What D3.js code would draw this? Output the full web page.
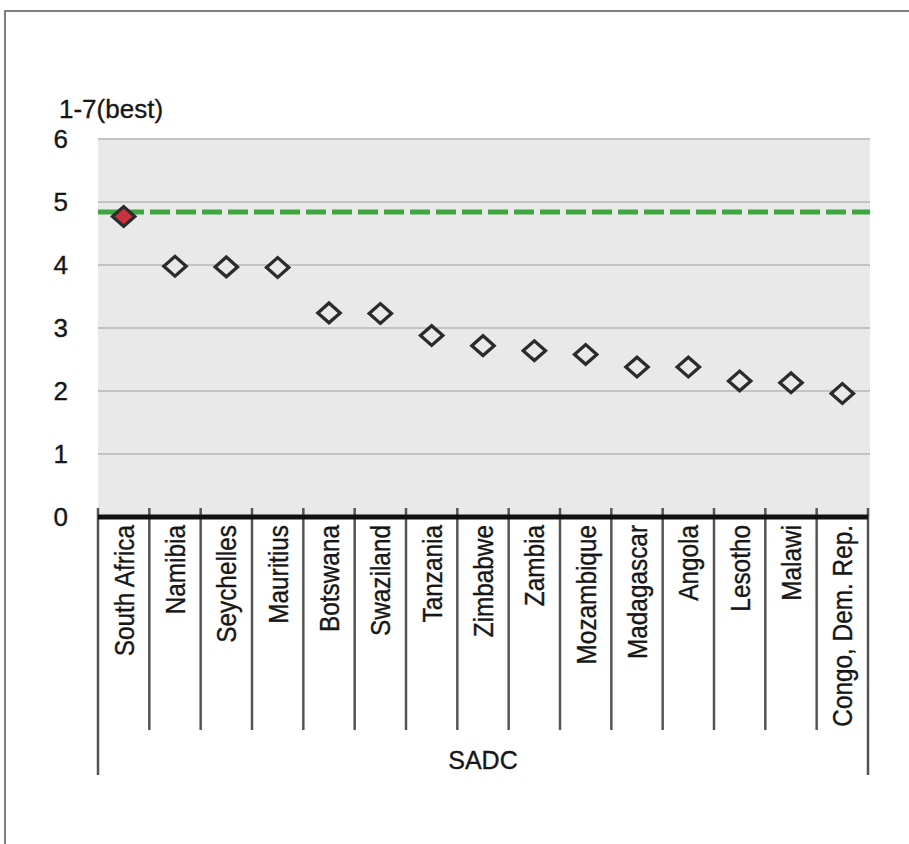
<!DOCTYPE html>
<html>
<head>
<meta charset="utf-8">
<script src="https://cdn.jsdelivr.net/npm/d3@7/dist/d3.min.js"></script>
<style>
  html, body { margin: 0; padding: 0; background: #fff; }
  svg { display: block; }
  text { font-family: "Liberation Sans", Arial, sans-serif; fill: #161616; stroke: #161616; stroke-width: 0.35px; }
</style>
</head>
<body>
<svg id="chart" width="909" height="844"></svg>
<script>
// ---- data ----
const categories = ["South Africa", "Namibia", "Seychelles", "Mauritius", "Botswana", "Swaziland",
  "Tanzania", "Zimbabwe", "Zambia", "Mozambique", "Madagascar", "Angola", "Lesotho", "Malawi",
  "Congo, Dem. Rep."];
const values = [4.77, 3.98, 3.97, 3.96, 3.24, 3.23, 2.88, 2.72, 2.64, 2.58, 2.38, 2.38, 2.16, 2.13, 1.96];
const highlighted = ["South Africa"];
const benchmarkValue = 4.84;
const yTicks = [0, 1, 2, 3, 4, 5, 6];
const yAxisTitle = "1-7(best)";
const groupLabel = "SADC";

// ---- layout ----
const svg = d3.select("#chart");
const plotLeft = 98, plotRight = 868, plotTop = 139, plotBottom = 517;

const x = d3.scaleBand().domain(categories).range([plotLeft, plotRight]).padding(0);
const y = d3.scaleLinear().domain([0, 6]).range([plotBottom, plotTop]);

// outer frame
svg.append("rect")
  .attr("x", 5).attr("y", 11).attr("width", 920).attr("height", 850)
  .attr("fill", "none").attr("stroke", "#555").attr("stroke-width", 1.5);

// plot background
svg.append("rect")
  .attr("x", plotLeft).attr("y", plotTop)
  .attr("width", plotRight - plotLeft + 2).attr("height", plotBottom - plotTop)
  .attr("fill", "#e9e9e9");

// gridlines
svg.append("g").selectAll("line")
  .data(yTicks.filter(d => d > 0))
  .join("line")
  .attr("x1", plotLeft).attr("x2", plotRight + 2)
  .attr("y1", d => y(d)).attr("y2", d => y(d))
  .attr("stroke", "#c3c3c3").attr("stroke-width", 2);

// y tick labels
svg.append("g").selectAll("text")
  .data(yTicks)
  .join("text")
  .attr("x", 68).attr("y", d => y(d))
  .attr("dy", "0.36em")
  .attr("text-anchor", "end")
  .style("font-size", "26px")
  .text(d => d);

// y axis title
svg.append("text")
  .attr("x", 59).attr("y", 118)
  .style("font-size", "26px")
  .text(yAxisTitle);

// benchmark dashed line
svg.append("line")
  .attr("x1", plotLeft).attr("x2", plotRight + 2)
  .attr("y1", y(benchmarkValue)).attr("y2", y(benchmarkValue))
  .attr("stroke", "#3fa63f").attr("stroke-width", 5)
  .attr("stroke-dasharray", "20,6");

// category separators (ticks)
const bounds = categories.map(c => x(c)).concat([x(categories[categories.length - 1]) + x.bandwidth()]);
svg.append("g").selectAll("line")
  .data(bounds)
  .join("line")
  .attr("x1", d => d).attr("x2", d => d)
  .attr("y1", 508)
  .attr("y2", (d, i) => (i === 0 || i === bounds.length - 1) ? 775 : 730)
  .attr("stroke", "#555").attr("stroke-width", 2.5);

// x axis line
svg.append("line")
  .attr("x1", plotLeft).attr("x2", plotRight)
  .attr("y1", plotBottom).attr("y2", plotBottom)
  .attr("stroke", "#111").attr("stroke-width", 5);

// category labels (rotated, slightly condensed)
svg.append("g").selectAll("text")
  .data(categories)
  .join("text")
  .attr("transform", d => `translate(${x(d) + x.bandwidth() / 2},525) rotate(-90) scale(0.87,1)`)
  .attr("dy", "0.36em")
  .attr("text-anchor", "end")
  .style("font-size", "28px")
  .text(d => d);

// group label
svg.append("text")
  .attr("x", (plotLeft + plotRight) / 2).attr("y", 769)
  .attr("text-anchor", "middle")
  .style("font-size", "25px")
  .text(groupLabel);

// markers
const diamond = d3.symbol().type(d3.symbolSquare).size(250);
svg.append("g").selectAll("path")
  .data(categories.map((c, i) => ({ c, v: values[i] })))
  .join("path")
  .attr("d", diamond)
  .attr("transform", d => `translate(${x(d.c) + x.bandwidth() / 2},${y(d.v)}) scale(1,0.88) rotate(45)`)
  .attr("fill", d => highlighted.includes(d.c) ? "#c8323c" : "#e9e9e9")
  .attr("stroke", "#2b2b2b")
  .attr("stroke-width", 3.5);
</script>
</body>
</html>
